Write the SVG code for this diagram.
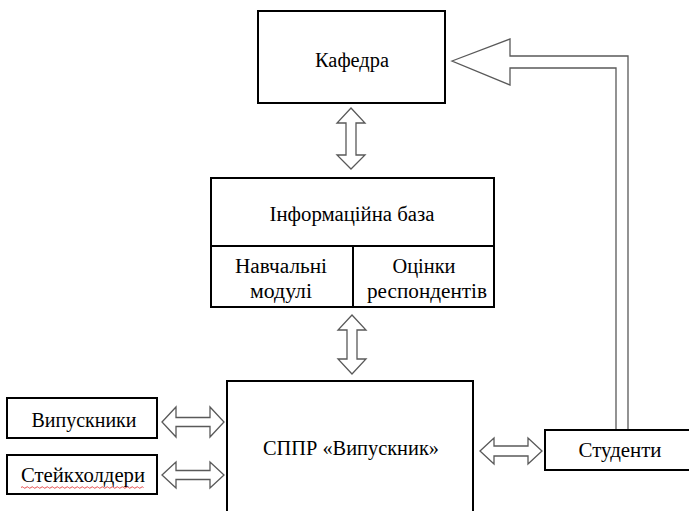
<svg xmlns="http://www.w3.org/2000/svg" width="689" height="511" viewBox="0 0 689 511">
<style>
.box{fill:#fff;stroke:#000;stroke-width:2}
.arr{fill:#fff;stroke:#595959;stroke-width:1.3;stroke-linejoin:miter}
text{fill:#000;text-anchor:middle;font-size:20.5px}
</style>
<rect width="689" height="511" fill="#fff"/>
<g id="connectors">
<path class="arr" d="M452,61 L510,39 L510,56 L628,56 L628,430 L616,430 L616,68 L510,68 L510,85 Z"/>
<path class="arr" d="M351,108 L365,123 L356,123 L356,155 L365,155 L351,169 L337,155 L346,155 L346,123 L337,123 Z"/>
<path class="arr" d="M352,315 L366,330 L357,330 L357,359 L366,359 L352,374 L338,359 L347,359 L347,330 L338,330 Z"/>
<path class="arr" d="M162,422 L176,407 L176,417.5 L210,417.5 L210,407 L224,422 L210,437 L210,426.5 L176,426.5 L176,437 Z"/>
<path class="arr" d="M162,475 L176,462 L176,470.5 L210,470.5 L210,462 L224,475 L210,488 L210,479.5 L176,479.5 L176,488 Z"/>
<path class="arr" d="M480,451 L494,438 L494,446 L528,446 L528,438 L542,451 L528,464 L528,456 L494,456 L494,464 Z"/>
</g>
<g font-family="Liberation Serif, DejaVu Serif, serif">
<g id="kafedra">
<rect class="box" x="258" y="11" width="187" height="92"/>
<text x="352" y="67" textLength="74" lengthAdjust="spacingAndGlyphs">Кафедра</text>
</g>
<g id="info-base">
<rect class="box" x="211" y="178" width="283" height="129"/>
<line x1="211" y1="246" x2="494" y2="246" stroke="#000" stroke-width="2"/>
<line x1="353" y1="246" x2="353" y2="307" stroke="#000" stroke-width="2"/>
<text x="352" y="221" textLength="165" lengthAdjust="spacingAndGlyphs">Інформаційна база</text>
</g>
<g id="modules">
<text x="281" y="273" textLength="92" lengthAdjust="spacingAndGlyphs">Навчальні</text>
<text x="281" y="298" textLength="62" lengthAdjust="spacingAndGlyphs">модулі</text>
</g>
<g id="ratings">
<text x="424" y="273" textLength="63" lengthAdjust="spacingAndGlyphs">Оцінки</text>
<text x="427" y="298" textLength="120" lengthAdjust="spacingAndGlyphs">респондентів</text>
</g>
<g id="sppr">
<rect class="box" x="227" y="381" width="246" height="140"/>
<text x="351" y="455" textLength="176" lengthAdjust="spacingAndGlyphs">СППР «Випускник»</text>
</g>
<g id="graduates">
<rect class="box" x="7" y="398" width="150" height="40"/>
<text x="84" y="427" textLength="105" lengthAdjust="spacingAndGlyphs">Випускники</text>
</g>
<g id="stakeholders">
<rect class="box" x="7" y="455" width="150" height="39"/>
<text x="83" y="482" textLength="124" lengthAdjust="spacingAndGlyphs">Стейкхолдери</text>
<path d="M21,487.5 q1.25,-1.5 2.5,0 t2.5,0 t2.5,0 t2.5,0 t2.5,0 t2.5,0 t2.5,0 t2.5,0 t2.5,0 t2.5,0 t2.5,0 t2.5,0 t2.5,0 t2.5,0 t2.5,0 t2.5,0 t2.5,0 t2.5,0 t2.5,0 t2.5,0 t2.5,0 t2.5,0 t2.5,0 t2.5,0 t2.5,0 t2.5,0 t2.5,0 t2.5,0 t2.5,0 t2.5,0 t2.5,0 t2.5,0 t2.5,0 t2.5,0 t2.5,0 t2.5,0 t2.5,0 t2.5,0 t2.5,0 t2.5,0 t2.5,0 t2.5,0 t2.5,0 t2.5,0 t2.5,0 t2.5,0 t2.5,0 t2.5,0 t2.5,0" fill="none" stroke="#e02020" stroke-width="0.8"/>
</g>
<g id="students">
<rect class="box" x="545" y="430" width="150" height="40"/>
<text x="620" y="457" textLength="83" lengthAdjust="spacingAndGlyphs">Студенти</text>
</g>
</g>
</svg>
